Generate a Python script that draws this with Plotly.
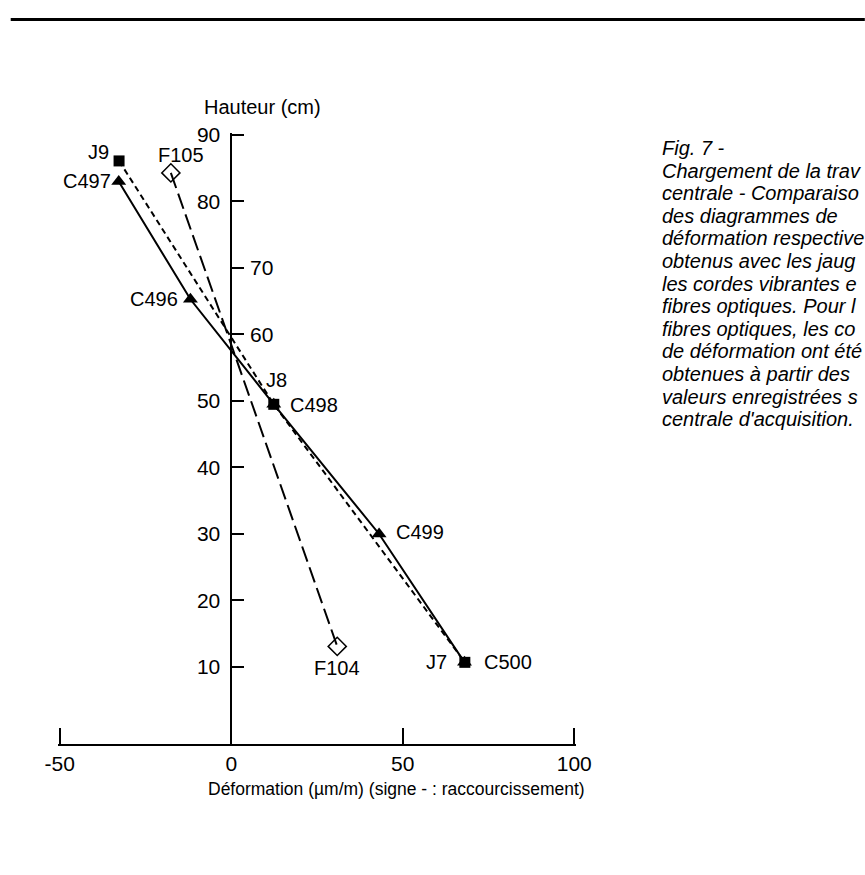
import plotly.graph_objects as go

# ---- data -------------------------------------------------------------
# Jauges (J), cordes vibrantes (C), fibres optiques (F): deformation (µm/m) vs hauteur (cm)
j_names = ["J9", "J8", "J7"]
j_def = [-32.7, 12.4, 68.1]
j_h = [86.1, 49.5, 10.7]

c_names = ["C497", "C496", "C498", "C499", "C500"]
c_def = [-32.8, -11.9, 12.4, 43.1, 68.0]
c_h = [83.0, 65.3, 49.5, 30.0, 10.7]

f_names = ["F105", "F104"]
f_def = [-17.6, 30.9]
f_h = [84.3, 13.1]

x_ticks = [-50, 0, 50, 100]
y_ticks = [10, 20, 30, 40, 50, 60, 70, 80, 90]
y_ticks_right = [60, 70]

# caption column, as far as it runs before the page edge
caption = [
    "Fig. 7 -",
    "Chargement de la trav",
    "centrale - Comparaiso",
    "des diagrammes de",
    "déformation respective",
    "obtenus avec les jaug",
    "les cordes vibrantes e",
    "fibres optiques. Pour l",
    "fibres optiques, les co",
    "de déformation ont été",
    "obtenues à partir des",
    "valeurs enregistrées s",
    "centrale d'acquisition.",
]

# ---- layout geometry --------------------------------------------------
W, H = 865, 875
X_RANGE = [-50.5, 100.5]
Y_RANGE = [-1.58, 90.3]
PX_PER_X = 3.43          # pixels per µm/m
PX_PER_Y = 6.65          # pixels per cm
ML = 231.5 - (0 - X_RANGE[0]) * PX_PER_X
PW = (X_RANGE[1] - X_RANGE[0]) * PX_PER_X
MR = W - ML - PW
MB = 875 - 744
PH = (Y_RANGE[1] - Y_RANGE[0]) * PX_PER_Y
MT = H - MB - PH
FONT = "Liberation Sans, Arial, Helvetica, sans-serif"


def px(xp):
    return (xp - ML) / PW


def py(yp):
    return (H - MB - yp) / PH


fig = go.Figure()

# fibres optiques: long dashes, open diamonds
fig.add_trace(go.Scatter(
    x=f_def, y=f_h, mode="lines+markers",
    line=dict(color="black", width=2, dash="16px,6px"),
    marker=dict(symbol="diamond-open", size=14, color="black", line=dict(width=1.5)),
))
# cordes vibrantes: solid line, triangles
fig.add_trace(go.Scatter(
    x=c_def, y=c_h, mode="lines+markers",
    line=dict(color="black", width=2),
    marker=dict(symbol="triangle-up", size=13, color="black"),
))
# jauges: short dashes, squares
fig.add_trace(go.Scatter(
    x=j_def, y=j_h, mode="lines+markers",
    line=dict(color="black", width=2, dash="6px,4px"),
    marker=dict(symbol="square", size=11, color="black"),
))

# point labels: xanchor, xshift, yshift
label_specs = {
    "J9": ("right", -8, 9),
    "J8": ("center", 3, 24),
    "J7": ("right", -16, 0),
    "C497": ("right", -6, 1),
    "C496": ("right", -10, 0),
    "C498": ("left", 14, -1),
    "C499": ("left", 15, 2),
    "C500": ("left", 17, 0),
    "F105": ("center", 10, 18),
    "F104": ("center", 0, -22),
}
ann = []
for names, xs, ys in ((j_names, j_def, j_h), (c_names, c_def, c_h), (f_names, f_def, f_h)):
    for n, xv, yv in zip(names, xs, ys):
        xa, xs_, ys_ = label_specs[n]
        ann.append(dict(x=xv, y=yv, xref="x", yref="y", text=n, showarrow=False,
                        xanchor=xa, yanchor="middle", xshift=xs_, yshift=ys_,
                        font=dict(family=FONT, size=20, color="black")))

# tick labels placed on the right of the vertical axis
for v in y_ticks_right:
    ann.append(dict(x=0, y=v, xref="x", yref="y", text=str(v), showarrow=False,
                    xanchor="left", yanchor="middle", xshift=17,
                    font=dict(family=FONT, size=21, color="black")))

# axis titles
ann.append(dict(x=px(202), y=py(107), xref="paper", yref="paper", text="Hauteur (cm)",
                showarrow=False, xanchor="left", yanchor="middle",
                font=dict(family=FONT, size=20, color="black")))
ann.append(dict(x=px(397), y=py(789), xref="paper", yref="paper",
                text="Déformation (µm/m) (signe - : raccourcissement)",
                showarrow=False, xanchor="center", yanchor="middle",
                font=dict(family=FONT, size=17.5, color="black")))

# figure caption
for i, line in enumerate(caption):
    ann.append(dict(x=px(660), y=py(148 + 22.6 * i), xref="paper", yref="paper",
                    text=f"<i>{line}</i>", showarrow=False, xanchor="left", yanchor="middle",
                    font=dict(family=FONT, size=20, color="black")))

fig.update_layout(
    width=W, height=H,
    margin=dict(l=ML, r=MR, t=MT, b=MB, pad=0),
    paper_bgcolor="white", plot_bgcolor="white",
    showlegend=False,
    annotations=ann,
    shapes=[dict(type="line", xref="paper", yref="paper",
                 x0=px(11), x1=px(865), y0=py(19.5), y1=py(19.5),
                 line=dict(color="black", width=3))],
    xaxis=dict(range=X_RANGE, tickvals=x_ticks, ticktext=[str(v) for v in x_ticks],
               ticks="inside", ticklen=16, tickwidth=1.5, tickcolor="black",
               showline=True, linecolor="black", linewidth=1.5,
               showgrid=False, zeroline=False, ticklabelstandoff=0,
               tickfont=dict(family=FONT, size=21, color="black")),
    yaxis=dict(range=Y_RANGE, tickvals=y_ticks,
               ticktext=["" if v in y_ticks_right else str(v) for v in y_ticks],
               anchor="free", position=(0 - X_RANGE[0]) / (X_RANGE[1] - X_RANGE[0]),
               side="left",
               ticks="inside", ticklen=12, tickwidth=1.5, tickcolor="black",
               showline=True, linecolor="black", linewidth=1.5,
               showgrid=False, zeroline=False, ticklabelstandoff=6,
               tickfont=dict(family=FONT, size=21, color="black")),
)

fig.write_html("out.html")
